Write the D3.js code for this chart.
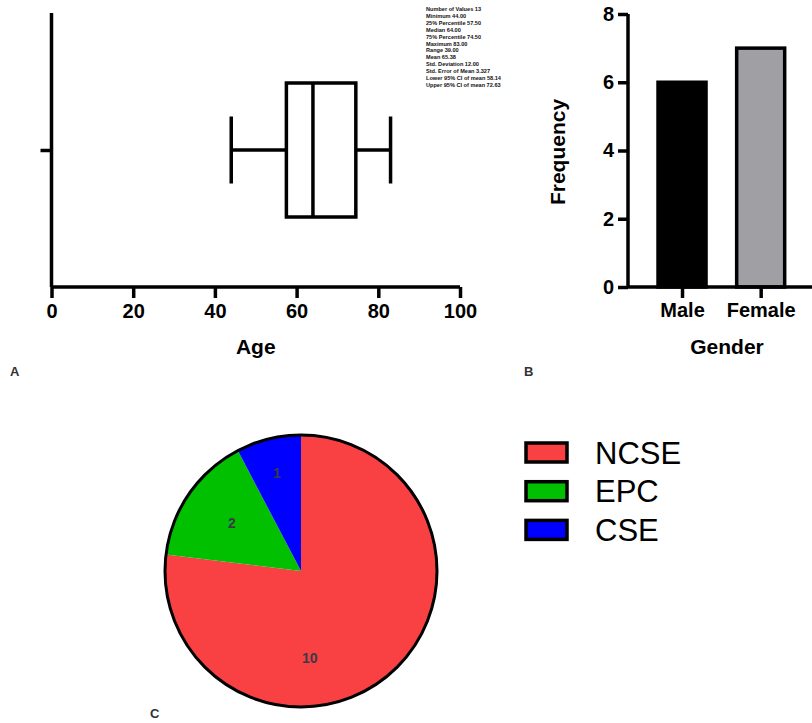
<!DOCTYPE html>
<html>
<head>
<meta charset="utf-8">
<script src="https://cdn.jsdelivr.net/npm/d3@7"></script>
<style>
  body { margin: 0; background: #fff; }
  svg { display: block; font-family: "Liberation Sans", Arial, sans-serif; }
</style>
</head>
<body>
<script>
// panel A - age box plot
const ageStats = { min: 44, q1: 57.5, median: 64, q3: 74.5, max: 83 };
const ageTicks = [0, 20, 40, 60, 80, 100];
const statLines = [
  "Number of Values 13", "Minimum 44.00", "25% Percentile 57.50", "Median 64.00",
  "75% Percentile 74.50", "Maximum 83.00", "Range  39.00", "Mean 65.38",
  "Std. Deviation 12.00", "Std. Error of Mean 3.327", "Lower 95% CI of mean 58.14",
  "Upper 95% CI of mean 72.63"
];

// panel B - gender bars
const genders = ["Male", "Female"];
const genderCounts = [6, 7];
const genderColors = ["#000000", "#a0a0a4"];
const freqTicks = [0, 2, 4, 6, 8];

// panel C - pie
const groups = ["NCSE", "EPC", "CSE"];
const groupCounts = [10, 2, 1];
const groupColors = ["#f94144", "#00c000", "#0000ff"];

const W = 812, H = 723;
const svg = d3.select("body").append("svg").attr("width", W).attr("height", H);

const bold = "bold";
const lw = 3.5;

// ---------- A ----------
const xA = d3.scaleLinear().domain([0, 100]).range([51.5, 460]);
const yA = d3.scalePoint().domain(["age"]).range([13, 287]).padding(0.5);
const gA = svg.append("g");

gA.append("g")
  .attr("transform", "translate(0,287)")
  .call(d3.axisBottom(xA).tickValues(ageTicks).tickSize(11).tickPadding(6))
  .call(g => {
    g.select(".domain").attr("stroke-width", lw).attr("d", `M${xA(0)},0H${xA(100)}`);
    g.selectAll(".tick line").attr("stroke-width", lw);
    g.selectAll("text").attr("font-size", 20).attr("font-weight", bold).attr("fill", "#000");
  });

gA.append("g")
  .attr("transform", `translate(${xA(0)},0)`)
  .call(d3.axisLeft(yA).tickSize(11).tickFormat(""))
  .call(g => {
    g.select(".domain").attr("stroke-width", lw).attr("d", "M0,13V287");
    g.selectAll(".tick line").attr("stroke-width", lw);
  });

const cy = yA("age");
const boxH = 134, capH = 67;
gA.append("line").attr("x1", xA(ageStats.min)).attr("x2", xA(ageStats.q1))
  .attr("y1", cy).attr("y2", cy).attr("stroke", "#000").attr("stroke-width", lw);
gA.append("line").attr("x1", xA(ageStats.q3)).attr("x2", xA(ageStats.max))
  .attr("y1", cy).attr("y2", cy).attr("stroke", "#000").attr("stroke-width", lw);
[ageStats.min, ageStats.max].forEach(v => {
  gA.append("line").attr("x1", xA(v)).attr("x2", xA(v))
    .attr("y1", cy - capH / 2).attr("y2", cy + capH / 2)
    .attr("stroke", "#000").attr("stroke-width", lw);
});
gA.append("rect").attr("x", xA(ageStats.q1)).attr("width", xA(ageStats.q3) - xA(ageStats.q1))
  .attr("y", cy - boxH / 2).attr("height", boxH)
  .attr("fill", "#fff").attr("stroke", "#000").attr("stroke-width", lw);
gA.append("line").attr("x1", xA(ageStats.median)).attr("x2", xA(ageStats.median))
  .attr("y1", cy - boxH / 2).attr("y2", cy + boxH / 2)
  .attr("stroke", "#000").attr("stroke-width", lw);

gA.append("text").attr("x", (xA(0) + xA(100)) / 2).attr("y", 354)
  .attr("text-anchor", "middle").attr("font-size", 21).attr("font-weight", bold).text("Age");

gA.selectAll(".stat").data(statLines).enter().append("text")
  .attr("class", "stat")
  .attr("x", 426).attr("y", (d, i) => 11 + i * 6.9)
  .attr("font-size", 5.6).attr("font-weight", bold).attr("fill", "#111")
  .text(d => d);

// ---------- B ----------
const xB = d3.scalePoint().domain(genders).range([642.7, 800]).padding(0.5);
const yB = d3.scaleLinear().domain([0, 8]).range([287, 14]);
const gB = svg.append("g");
const barW = 48;

gB.selectAll(".bar").data(genders).enter().append("rect")
  .attr("class", "bar")
  .attr("x", d => xB(d) - barW / 2)
  .attr("width", barW)
  .attr("y", (d, i) => yB(genderCounts[i]))
  .attr("height", (d, i) => yB(0) - yB(genderCounts[i]))
  .attr("fill", (d, i) => genderColors[i])
  .attr("stroke", "#000").attr("stroke-width", lw);

gB.append("g")
  .attr("transform", "translate(0,287)")
  .call(d3.axisBottom(xB).tickSize(11).tickPadding(5))
  .call(g => {
    g.select(".domain").attr("stroke-width", lw).attr("d", "M628,0H812");
    g.selectAll(".tick line").attr("stroke-width", lw);
    g.selectAll("text").attr("font-size", 20).attr("font-weight", bold).attr("fill", "#000");
  });

gB.append("g")
  .attr("transform", "translate(628,0)")
  .call(d3.axisLeft(yB).tickValues(freqTicks).tickSize(10).tickPadding(4))
  .call(g => {
    g.select(".domain").attr("stroke-width", lw).attr("d", `M0,${yB(8)}V${yB(0)}`);
    g.selectAll(".tick line").attr("stroke-width", lw);
    g.selectAll("text").attr("font-size", 20).attr("font-weight", bold).attr("fill", "#000");
  });

gB.append("text").attr("x", 727).attr("y", 354)
  .attr("text-anchor", "middle").attr("font-size", 21).attr("font-weight", bold).text("Gender");
gB.append("text").attr("transform", "translate(565,152) rotate(-90)")
  .attr("text-anchor", "middle").attr("font-size", 21).attr("font-weight", bold).text("Frequency");

// ---------- C ----------
const pcx = 301, pcy = 571, R = 136;
const pie = d3.pie().sort(null).value(d => d)(groupCounts);
const arc = d3.arc().innerRadius(0).outerRadius(R);
const gC = svg.append("g").attr("transform", `translate(${pcx},${pcy})`);

gC.selectAll("path").data(pie).enter().append("path")
  .attr("d", arc).attr("fill", (d, i) => groupColors[i]);
gC.append("circle").attr("r", R).attr("fill", "none").attr("stroke", "#000").attr("stroke-width", 3);

// labels: small slices on their mid angle, big slice label sits low near the bottom
const labelR = [88, 84, 101];
gC.selectAll(".pl").data(pie).enter().append("text")
  .attr("class", "pl")
  .attr("transform", (d, i) => {
    const a = i === 0 ? Math.PI - 0.1 : (d.startAngle + d.endAngle) / 2;
    return `translate(${Math.sin(a) * labelR[i]},${-Math.cos(a) * labelR[i]})`;
  })
  .attr("dy", "0.35em").attr("text-anchor", "middle")
  .attr("font-size", 14).attr("font-weight", bold).attr("fill", "#3a3a48")
  .text(d => d.data);

// legend
const legend = svg.append("g");
const leg = legend.selectAll("g").data(groups).enter().append("g")
  .attr("transform", (d, i) => `translate(526,${443 + i * 38.7})`);
leg.append("rect").attr("width", 41).attr("height", 19)
  .attr("fill", (d, i) => groupColors[i]).attr("stroke", "#000").attr("stroke-width", 3.5);
leg.append("text").attr("x", 69).attr("y", 20.5)
  .attr("font-size", 31).attr("fill", "#000").text(d => d);

// panel letters
[["A", 10, 376], ["B", 524, 376], ["C", 150, 718]].forEach(p => {
  svg.append("text").attr("x", p[1]).attr("y", p[2])
    .attr("font-size", 13).attr("font-weight", bold).attr("fill", "#333").text(p[0]);
});
</script>
</body>
</html>
